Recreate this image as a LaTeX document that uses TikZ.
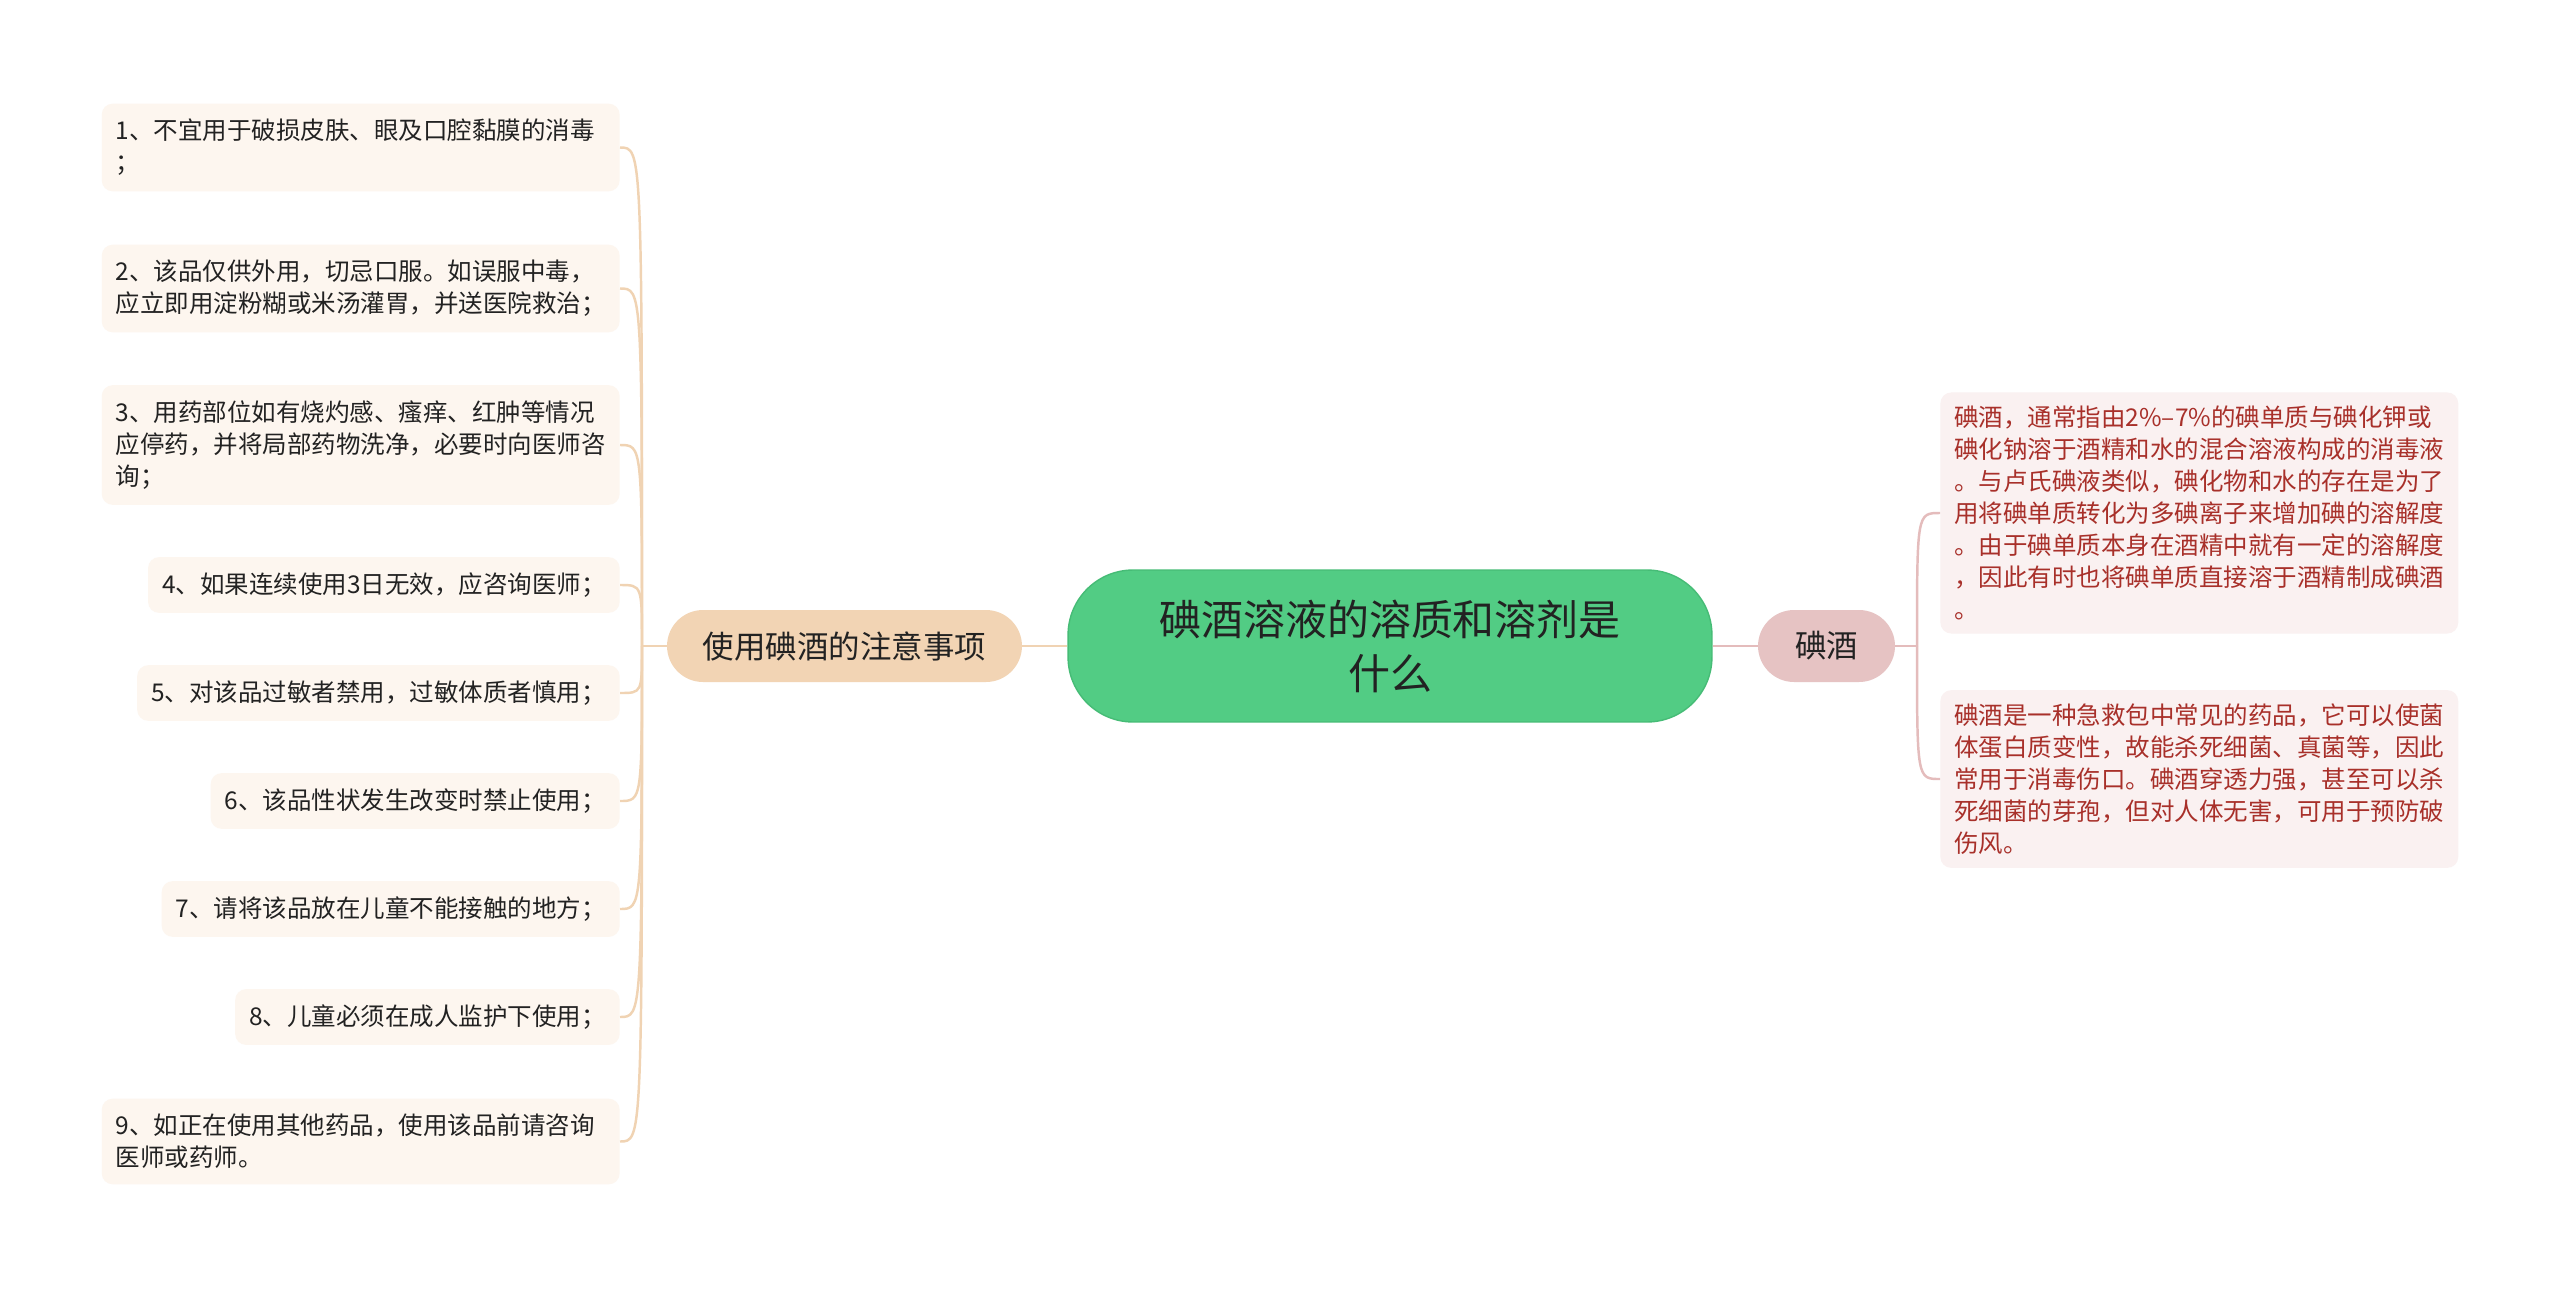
\documentclass[tikz,border=0pt]{standalone}
\usepackage{fontspec}
\setmainfont{Noto Sans CJK SC}
\definecolor{rootfill}{HTML}{52CC84}
\definecolor{rootdraw}{HTML}{46BC76}
\definecolor{tipcat}{HTML}{F2D4B4}
\definecolor{tipfill}{HTML}{FDF6EF}
\definecolor{tipline}{HTML}{F0D3B3}
\definecolor{iodcat}{HTML}{E6C3C3}
\definecolor{iodfill}{HTML}{FAF1F1}
\definecolor{iodline}{HTML}{E4BCBC}
\definecolor{iodtext}{HTML}{A8302A}
\definecolor{darktext}{HTML}{222222}

\begin{document}
\begin{tikzpicture}[x=0.02cm,y=-0.02cm,
  rootnode/.style={fill=rootfill,draw=rootdraw,line width=0.8pt,rounded corners=1.3cm,
    minimum width=12.88cm,minimum height=3.04cm,align=center,text=darktext,
    font=\fontsize{23.9pt}{30.7pt}\selectfont},
  catnode/.style={rounded corners=0.72cm,minimum height=1.44cm,inner xsep=0.3cm,
    text=darktext,font=\fontsize{17.9pt}{22pt}\selectfont},
  tipbox/.style={fill=tipfill,rounded corners=0.22cm,anchor=east,inner xsep=0.28cm,
    inner ysep=0.31cm,text=darktext,font=\fontsize{13.94pt}{18.21pt}\selectfont},
  tipwide/.style={tipbox,text width=9.8cm,align=left},
  iodbox/.style={fill=iodfill,rounded corners=0.22cm,anchor=west,inner xsep=0.28cm,
    inner ysep=0.27cm,text width=9.8cm,align=left,text=iodtext,
    font=\fontsize{13.94pt}{18.21pt}\selectfont},
  tiplink/.style={draw=tipline,line width=1.4pt},
  iodlink/.style={draw=iodline,line width=1.4pt}]
\fill [white] (0,0) rectangle (2560,1292);
\useasboundingbox (0,0) rectangle (2560,1292);

\node [rootnode] (root) at (1390,646) {碘酒溶液的溶质和溶剂是\\什么};
\node [catnode,fill=tipcat,minimum width=7.1cm] (tips) at (844.5,646) {使用碘酒的注意事项};
\node [catnode,fill=iodcat,minimum width=2.74cm] (iod) at (1826.5,646) {碘酒};
\coordinate (lj) at (642,646);
\coordinate (rj) at (1917,646);

\node [tipwide] (t1) at (620,147.5) {1、不宜用于破损皮肤、眼及口腔黏膜的消毒\\；};
\node [tipwide] (t2) at (620,288.5) {2、该品仅供外用，切忌口服。如误服中毒，\\应立即用淀粉糊或米汤灌胃，并送医院救治；};
\node [tipwide] (t3) at (620,445) {3、用药部位如有烧灼感、瘙痒、红肿等情况\\应停药，并将局部药物洗净，必要时向医师咨\\询；};
\node [tipbox] (t4) at (620,585) {4、如果连续使用3日无效，应咨询医师；};
\node [tipbox] (t5) at (620,693) {5、对该品过敏者禁用，过敏体质者慎用；};
\node [tipbox] (t6) at (620,801) {6、该品性状发生改变时禁止使用；};
\node [tipbox] (t7) at (620,909) {7、请将该品放在儿童不能接触的地方；};
\node [tipbox] (t8) at (620,1017) {8、儿童必须在成人监护下使用；};
\node [tipwide] (t9) at (620,1141.5) {9、如正在使用其他药品，使用该品前请咨询\\医师或药师。};

\node [iodbox] (n1) at (1940,513) {碘酒，通常指由2\%–7\%的碘单质与碘化钾或\\碘化钠溶于酒精和水的混合溶液构成的消毒液\\。与卢氏碘液类似，碘化物和水的存在是为了\\用将碘单质转化为多碘离子来增加碘的溶解度\\。由于碘单质本身在酒精中就有一定的溶解度\\，因此有时也将碘单质直接溶于酒精制成碘酒\\。};
\node [iodbox] (n2) at (1940,779) {碘酒是一种急救包中常见的药品，它可以使菌\\体蛋白质变性，故能杀死细菌、真菌等，因此\\常用于消毒伤口。碘酒穿透力强，甚至可以杀\\死细菌的芽孢，但对人体无害，可用于预防破\\伤风。};

\draw [tiplink] (root.west) -- (tips.east);
\draw [tiplink] (tips.west) -- (lj);
\draw [tiplink] (lj) .. controls (lj |- t1.east) .. (t1.east);
\draw [tiplink] (lj) .. controls (lj |- t2.east) .. (t2.east);
\draw [tiplink] (lj) .. controls (lj |- t3.east) .. (t3.east);
\draw [tiplink] (lj) .. controls (lj |- t4.east) .. (t4.east);
\draw [tiplink] (lj) .. controls (lj |- t5.east) .. (t5.east);
\draw [tiplink] (lj) .. controls (lj |- t6.east) .. (t6.east);
\draw [tiplink] (lj) .. controls (lj |- t7.east) .. (t7.east);
\draw [tiplink] (lj) .. controls (lj |- t8.east) .. (t8.east);
\draw [tiplink] (lj) .. controls (lj |- t9.east) .. (t9.east);

\draw [iodlink] (root.east) -- (iod.west);
\draw [iodlink] (iod.east) -- (rj);
\draw [iodlink] (rj) .. controls (rj |- n1.west) .. (n1.west);
\draw [iodlink] (rj) .. controls (rj |- n2.west) .. (n2.west);
\end{tikzpicture}
\end{document}
